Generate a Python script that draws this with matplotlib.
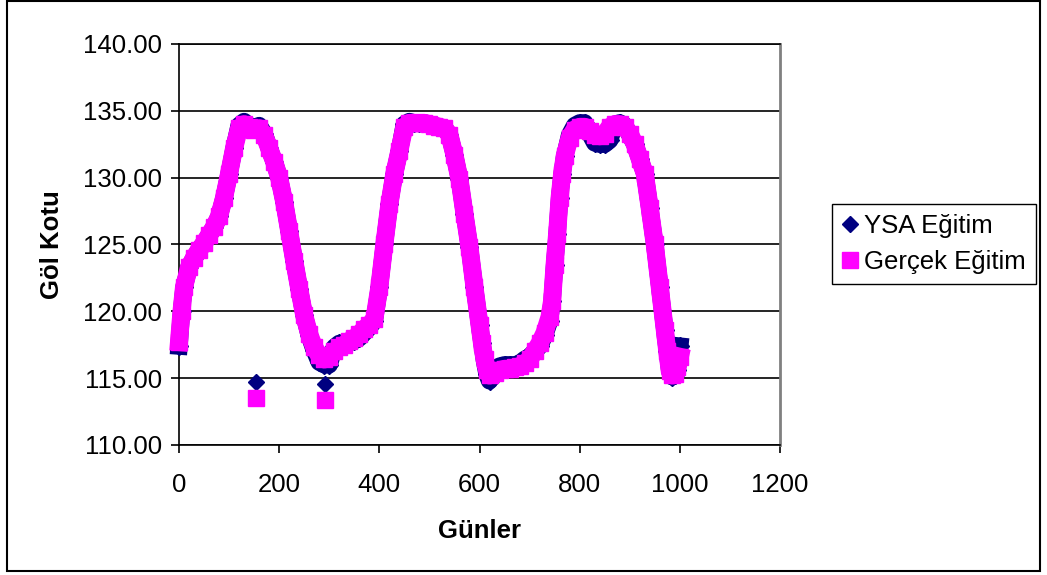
import matplotlib.pyplot as plt
from matplotlib.lines import Line2D
from matplotlib.patches import Rectangle

plt.rcParams['font.family'] = ['Liberation Sans', 'DejaVu Sans']

# days (x) and lake levels
days = [0, 5, 10, 20, 30, 40, 50, 60, 70, 80, 90, 100, 110, 120, 130, 140, 150, 160, 170,
        180, 190, 200, 210, 220, 230, 240, 250, 260, 270, 280, 290, 300, 310, 320, 330,
        340, 350, 360, 370, 380, 390, 400, 410, 420, 430, 440, 450, 460, 470, 480, 490,
        500, 510, 520, 530, 540, 550, 560, 570, 580, 590, 600, 605, 610, 615, 620, 630,
        640, 650, 660, 670, 680, 690, 700, 710, 720, 730, 740, 745, 750, 755, 760, 765,
        770, 780, 790, 800, 810, 820, 830, 840, 850, 860, 870, 880, 890, 900, 910, 920,
        930, 940, 950, 960, 970, 975, 980, 985, 990, 995, 1000]

gercek = [117.7, 120.0, 121.8, 123.3, 124.0, 124.6, 125.1, 125.7, 126.3, 127.1, 128.5,
          130.3, 132.2, 133.7, 134.0, 133.8, 133.6, 133.7, 133.2, 132.2, 131.2, 130.0,
          128.2, 126.0, 123.8, 121.7, 119.7, 118.3, 117.3, 116.7, 116.4, 116.6, 117.0,
          117.3, 117.5, 117.8, 118.0, 118.3, 118.7, 119.0, 119.4, 121.8, 125.0, 128.0,
          130.3, 132.0, 133.8, 134.1, 134.1, 134.1, 134.1, 134.0, 133.9, 133.8, 133.7,
          133.2, 131.7, 129.9, 127.3, 124.8, 121.8, 119.0, 117.6, 116.4, 115.6, 115.2,
          115.4, 115.6, 115.7, 115.7, 115.8, 115.9, 116.1, 116.4, 117.0, 117.6, 118.4,
          119.6, 120.8, 123.5, 125.8, 128.5, 130.3, 131.6, 133.0, 133.6, 133.8, 133.8,
          133.5, 133.2, 133.1, 133.3, 133.8, 134.0, 134.0, 133.8, 133.3, 132.5, 131.4,
          130.3, 127.7, 125.0, 121.8, 118.6, 117.0, 115.5, 115.2, 115.3, 115.8, 116.6]

ysa = [117.4, 120.0, 121.8, 123.3, 124.0, 124.6, 125.1, 125.7, 126.3, 127.1, 128.5,
       130.3, 132.2, 133.9, 134.2, 133.9, 133.7, 133.9, 133.3, 132.2, 131.2, 130.0,
       128.2, 126.0, 123.8, 121.7, 119.7, 118.2, 117.1, 116.2, 116.0, 116.0, 117.3,
       117.6, 117.6, 117.7, 117.8, 118.0, 118.4, 118.8, 119.3, 121.8, 125.0, 128.0,
       130.3, 132.0, 134.0, 134.2, 134.1, 134.1, 134.1, 134.0, 133.9, 133.8, 133.7,
       133.2, 131.7, 129.9, 127.3, 124.8, 121.8, 119.0, 117.6, 116.3, 115.3, 114.8,
       115.7, 115.9, 116.0, 116.0, 116.0, 116.1, 116.4, 116.6, 117.0, 117.4, 118.2,
       119.3, 120.8, 123.5, 125.8, 128.5, 130.3, 131.6, 133.2, 133.9, 134.1, 134.1,
       133.3, 132.6, 132.5, 132.5, 132.8, 134.0, 134.1, 133.9, 133.2, 132.5, 131.4,
       130.3, 127.7, 125.0, 121.8, 118.6, 117.0, 115.5, 115.1, 115.2, 115.6, 117.4]

# single stray points
outlier_days = [153, 292]
ysa_outliers = [114.7, 114.6]
gercek_outliers = [113.5, 113.4]

NAVY = '#000080'
MAGENTA = '#FF00FF'

fig = plt.figure(figsize=(10.47, 5.75), dpi=100)
ax = fig.add_axes([179 / 1047, 1 - 445 / 575, (780 - 179) / 1047, (445 - 44) / 575])

ax.plot(days, ysa, color=NAVY, lw=12.5, marker='D', ms=9, solid_joinstyle='round',
        clip_on=False, zorder=3)
ax.plot(outlier_days, ysa_outliers, ls='', color=NAVY, marker='D', ms=8,
        clip_on=False, zorder=3)
ax.plot(days, gercek, color=MAGENTA, lw=13, marker='s', ms=12, solid_joinstyle='round',
        clip_on=False, zorder=4)
ax.plot(outlier_days, gercek_outliers, ls='', color=MAGENTA, marker='s', ms=11,
        clip_on=False, zorder=4)

ax.set_xlim(0, 1200)
ax.set_ylim(110, 140)
ax.set_xticks(range(0, 1201, 200))
ax.set_yticks(range(110, 141, 5))
ax.set_yticklabels([f'{v:.2f}' for v in range(110, 141, 5)])
ax.yaxis.grid(True, color='black', lw=1.2)
ax.set_axisbelow(True)
ax.tick_params(axis='both', direction='out', length=6, width=1.2, labelsize=18.5, pad=6)
ax.tick_params(axis='x', pad=14)

for s in ['left', 'bottom']:
    ax.spines[s].set_linewidth(1.2)
ax.spines['top'].set_linewidth(1.2)
ax.spines['right'].set_color('#808080')
ax.spines['right'].set_linewidth(2)

ax.set_xlabel('Günler', fontsize=18.5, fontweight='bold', labelpad=16)
ax.set_ylabel('Göl Kotu', fontsize=18.5, fontweight='bold', labelpad=14)

handles = [Line2D([], [], ls='', marker='D', color=NAVY, ms=8),
           Line2D([], [], ls='', marker='s', color=MAGENTA, ms=11)]
leg = fig.legend(handles, ['YSA Eğitim', 'Gerçek Eğitim'], loc='upper left',
                 bbox_to_anchor=(832 / 1047, 1 - 204 / 575), borderaxespad=0,
                 fontsize=18.5, fancybox=False, framealpha=1, edgecolor='black',
                 handlelength=0.6, handletextpad=0.25, labelspacing=0.45,
                 borderpad=0.4)
leg.get_frame().set_linewidth(1)

fig.patches.append(Rectangle((7 / 1047, 1 - 571 / 575), (1040 - 7) / 1047, 571 / 575 - 0.001,
                             transform=fig.transFigure, fill=False, edgecolor='black', lw=1.5))

fig.savefig('out.png', dpi=100)
